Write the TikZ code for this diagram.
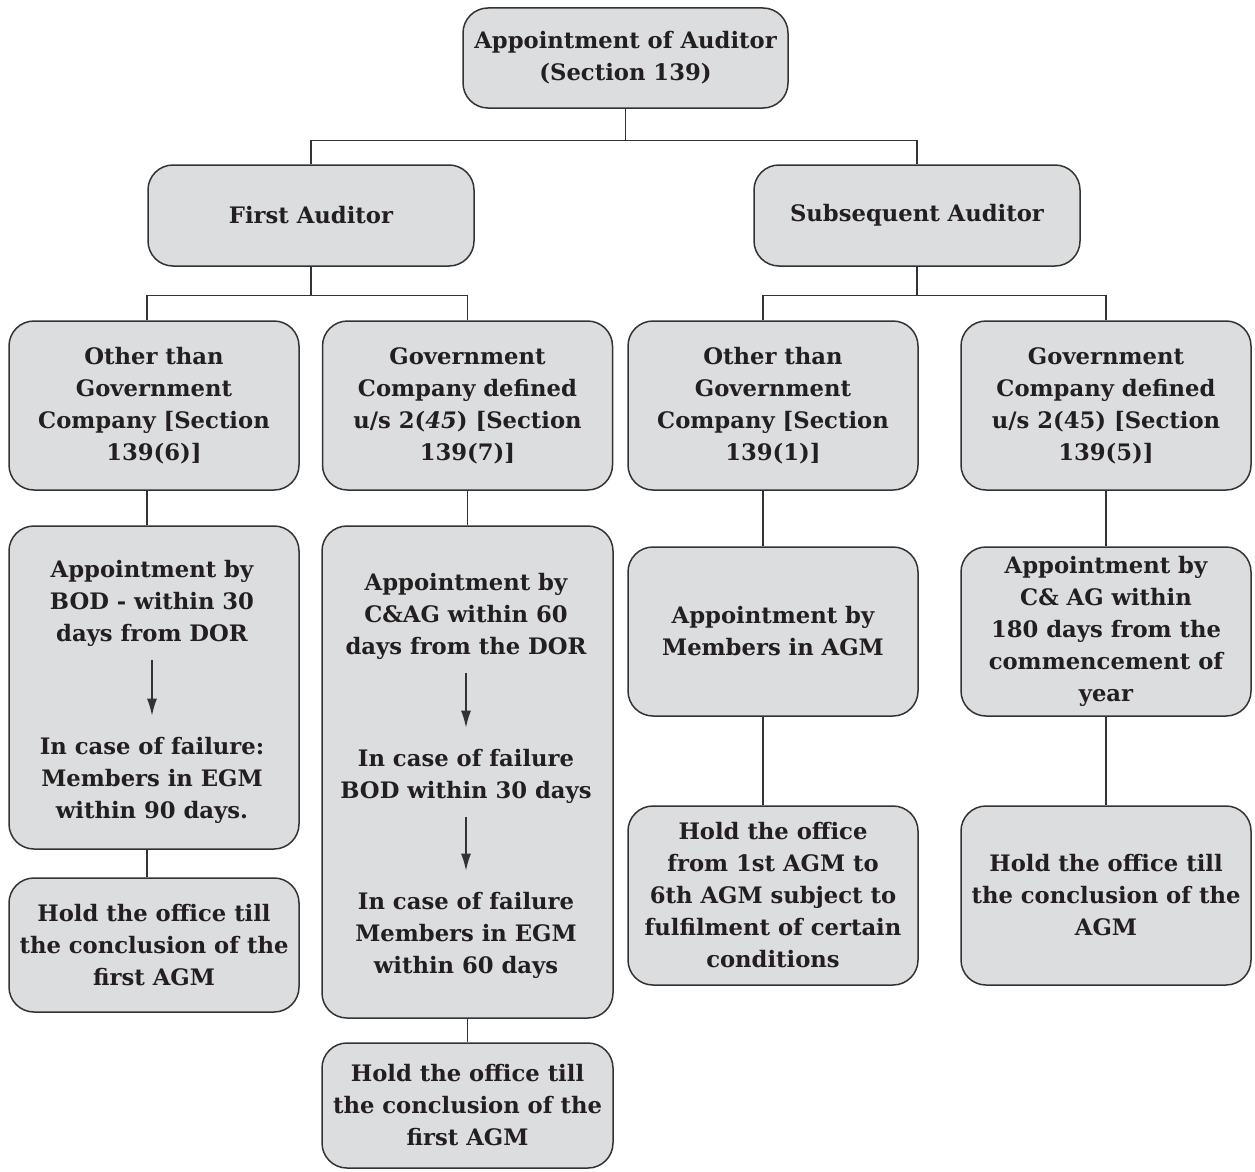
\documentclass[tikz,border=0pt]{standalone}
\usepackage{fontspec}
\setmainfont{DejaVu Serif}
\usetikzlibrary{arrows.meta}
\definecolor{boxgray}{RGB}{220,221,223}
\definecolor{linegray}{RGB}{51,51,51}
\definecolor{inkblack}{RGB}{35,31,32}
\newcommand{\boxfont}{\bfseries\fontsize{22.7}{32}\selectfont}
\tikzset{
  box/.style={draw=linegray, line width=1.5pt, fill=boxgray, rounded corners=25pt, inner sep=0pt,
    text=inkblack, align=center, font=\boxfont},
  cell/.style={minimum width=290, minimum height=169},
  txt/.style={inner sep=0pt, text=inkblack, align=center, font=\boxfont},
  link/.style={draw=linegray, line width=1.4pt},
  flow/.style={link, -{Latex[length=17pt,width=10pt]}, shorten <=14pt, shorten >=21pt}
}

\begin{document}
\begin{tikzpicture}[x=1pt, y=-1pt]
        \useasboundingbox (0,0) rectangle (1255,1172);
        \coordinate (colA) at (147,0); \coordinate (colC) at (763,0);
        % top two levels
        \node[box, minimum width=325, minimum height=100] (top) at (625.5,58) {Appointment of Auditor\\(Section 139)};
        \node[box, minimum width=326, minimum height=101] (fa) at (311,215.5) {First Auditor};
        \node[box, minimum width=326, minimum height=101] (sa) at (917,215.5) {Subsequent Auditor};
        % kinds of company
        \node[box, cell] (a3) at (154,405.5) {Other than\\Government\\Company [Section\\139(6)]};
        \node[box, cell] (b3) at (467.5,405.5) {Government\\Company defined\\u/s 2(\textit{45}) [Section\\139(7)]};
        \node[box, cell] (c3) at (773,405.5) {Other than\\Government\\Company [Section\\139(1)]};
        \node[box, cell] (d3) at (1106,405.5) {Government\\Company defined\\u/s 2(45) [Section\\139(5)]};
        % who appoints
        \node[box, minimum width=290, minimum height=323] (a4) at (154,687.5) {};
        \node[txt] (a4p) at (152,603) {Appointment by\\BOD - within 30\\days from DOR};
        \node[txt] (a4q) at (152,780) {In case of failure:\\Members in EGM\\within 90 days.};
        \draw[flow] (a4p) -- (a4q);
        \node[box, minimum width=291, minimum height=492] (b4) at (467.5,772) {};
        \node[txt] (b4p) at (466,616) {Appointment by\\C\&AG within 60\\days from the DOR};
        \node[txt] (b4q) at (466,776) {In case of failure\\BOD within 30 days};
        \node[txt] (b4r) at (466,935) {In case of failure\\Members in EGM\\within 60 days};
        \draw[flow] (b4p) -- (b4q); \draw[flow] (b4q) -- (b4r);
        \node[box, cell] (c4) at (773,631.5) {Appointment by\\Members in AGM};
        \node[box, cell] (d4) at (1106,631.5) {Appointment by\\C\& AG within\\180 days from the\\commencement of\\year};
        % tenure
        \node[box, minimum width=290, minimum height=134] (a5) at (154,945) {Hold the office till\\the conclusion of the\\first AGM};
        \node[box, minimum width=291, minimum height=125] (b5) at (467.5,1105.5) {Hold the office till\\the conclusion of the\\first AGM};
        \node[box, minimum width=290, minimum height=179] (c5) at (773,895.5) {Hold the office\\from 1st AGM to\\6th AGM subject to\\fulfilment of certain\\conditions};
        \node[box, minimum width=290, minimum height=179] (d5) at (1106,895.5) {Hold the office till\\the conclusion of the\\AGM};
        % connectors
        \draw[link] (top.south) -- ++(0,32) -| (fa.north); \draw[link] (top.south) -- ++(0,32) -| (sa.north);
        \draw[link] (fa.south) -- ++(0,29) -| (a3.north -| colA); \draw[link] (fa.south) -- ++(0,29) -| (b3.north);
        \draw[link] (sa.south) -- ++(0,29) -| (c3.north -| colC); \draw[link] (sa.south) -- ++(0,29) -| (d3.north);
        \draw[link] (a3.south -| colA) -- (a4.north -| colA); \draw[link] (a4.south -| colA) -- (a5.north -| colA);
        \draw[link] (b3.south) -- (b4.north); \draw[link] (b4.south) -- (b5.north);
        \draw[link] (c3.south -| colC) -- (c4.north -| colC); \draw[link] (c4.south -| colC) -- (c5.north -| colC);
        \draw[link] (d3.south) -- (d4.north); \draw[link] (d4.south) -- (d5.north);
    \end{tikzpicture}
\end{document}
